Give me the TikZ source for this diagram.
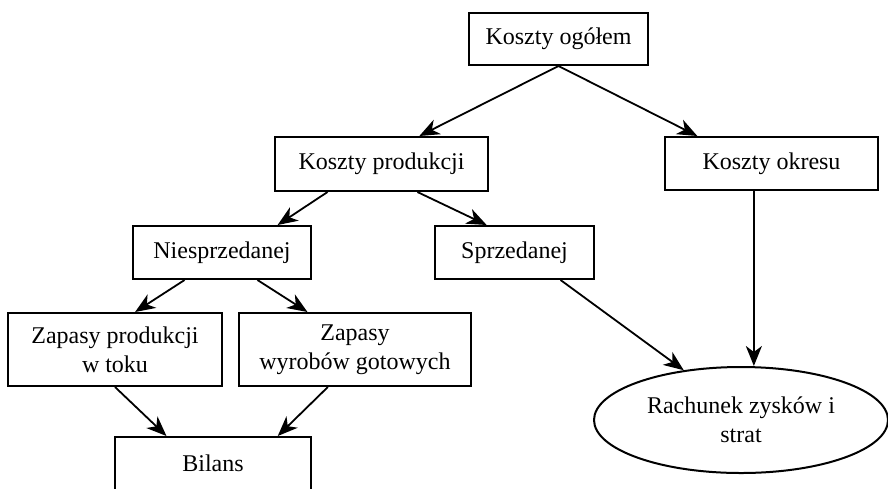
\documentclass[tikz,border=0pt]{standalone}
\usepackage{fontspec}
\setmainfont{Liberation Serif}
\usetikzlibrary{arrows.meta,calc,shapes.geometric}
\begin{document}
\begin{tikzpicture}[x=0.5pt,y=-0.5pt,
  box/.style={draw,line width=1pt,inner sep=0pt,align=center,font=\fontsize{12}{14.5}\selectfont},
  arr/.style={line width=0.9pt,-{Stealth[length=10pt,width=8pt,inset=3pt]}}]
\useasboundingbox (0,0) rectangle (888,488);
\node[box,minimum width=89.5pt,minimum height=26pt] (ko) at (558.5,39) {Koszty ogółem};
\node[box,minimum width=106.5pt,minimum height=27pt] (kp) at (381.5,164) {Koszty produkcji};
\node[box,minimum width=106.5pt,minimum height=26.5pt] (kok) at (771.5,163.5) {Koszty okresu};
\node[box,minimum width=89pt,minimum height=26.5pt] (ni) at (222,252.5) {Niesprzedanej};
\node[box,minimum width=79.5pt,minimum height=26.5pt] (sp) at (514.5,252.5) {Sprzedanej};
\node[box,minimum width=107pt,minimum height=36.5pt] (zp) at (115,349.5) {Zapasy produkcji\\w toku};
\node[box,minimum width=116pt,minimum height=36.5pt] (zw) at (355,349.5) {Zapasy\\wyrobów gotowych};
\node[box,minimum width=98pt,minimum height=26.5pt] (bi) at (213,463.5) {Bilans};
\node[box,ellipse,minimum width=147pt,minimum height=53pt] (rz) at (741,420) {Rachunek zysków i\\strat};

\draw[arr] (ko.south) -- ($(kp.north west)!0.676!(kp.north east)$);
\draw[arr] (ko.south) -- ($(kok.north west)!0.155!(kok.north east)$);
\draw[arr] ($(kp.south west)!0.249!(kp.south east)$) -- ($(ni.north west)!0.809!(ni.north east)$);
\draw[arr] ($(kp.south west)!0.667!(kp.south east)$) -- ($(sp.north west)!0.327!(sp.north east)$);
\draw[arr] ($(ni.south west)!0.292!(ni.south east)$) -- ($(zp.north west)!0.593!(zp.north east)$);
\draw[arr] ($(ni.south west)!0.697!(ni.south east)$) -- ($(zw.north west)!0.297!(zw.north east)$);
\draw[arr] (zp.south) -- ($(bi.north west)!0.265!(bi.north east)$);
\draw[arr] ($(zw.south west)!0.384!(zw.south east)$) -- ($(bi.north west)!0.827!(bi.north east)$);
\draw[arr] ($(sp.south west)!0.786!(sp.south east)$) -- (rz.139);
\coordinate (okb) at ($(kok.south west)!0.418!(kok.south east)$);
\draw[arr] (okb) -- (okb |- rz.north);
\end{tikzpicture}
\end{document}
